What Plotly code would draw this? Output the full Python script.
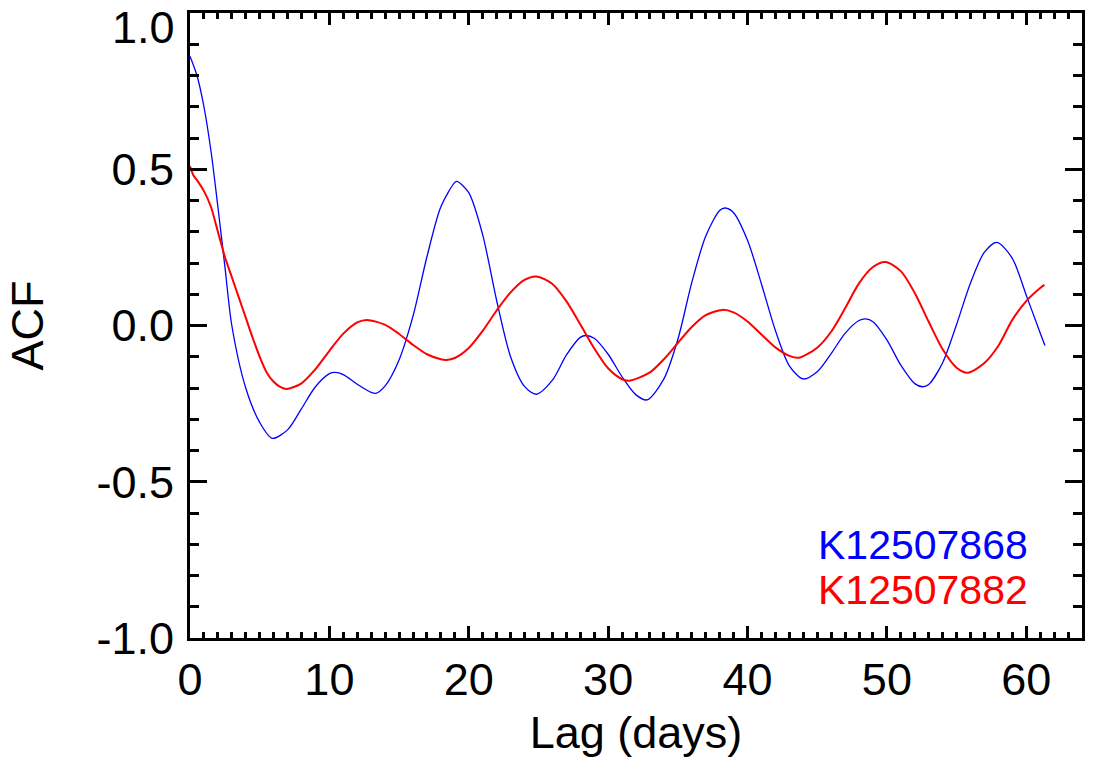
import plotly.graph_objects as go

# ---- data ----
lag_blue = [0, 0.5, 1, 1.5, 2, 2.5, 3, 4, 5, 5.9, 7, 8, 9, 10, 10.4, 11, 12, 13, 13.33,
            14, 15, 16, 17, 18, 19, 19.16, 20, 21, 22, 23, 24, 24.85, 26, 27, 28, 28.4,
            29, 30, 31, 32, 32.8, 34, 35, 36, 37, 38, 38.4, 39, 40, 41, 42, 43, 44,
            45, 46, 47, 48, 48.46, 49, 50, 51, 52, 52.57, 53, 54, 55, 56, 57, 57.9,
            59, 60, 61, 61.34]
acf_blue = [0.862, 0.80, 0.70, 0.56, 0.38, 0.19, 0.00, -0.20, -0.31, -0.361, -0.334, -0.266,
            -0.196, -0.154, -0.150, -0.157, -0.188, -0.214, -0.217,
            -0.193, -0.11, 0.03, 0.22, 0.38, 0.458, 0.461, 0.425, 0.29, 0.08, -0.10,
            -0.195, -0.220, -0.175, -0.095, -0.038, -0.032,
            -0.041, -0.092, -0.164, -0.222, -0.238, -0.171, -0.045, 0.137, 0.286, 0.368,
            0.376, 0.361, 0.273, 0.133, -0.016, -0.129, -0.171,
            -0.148, -0.090, -0.025, 0.016, 0.021, 0.012, -0.046, -0.127, -0.186, -0.196,
            -0.189, -0.119, 0.003, 0.136, 0.235, 0.266,
            0.215, 0.097, -0.024, -0.064]

lag_red = [0, 0.25, 0.5, 1, 1.5, 2, 2.5, 3, 3.5, 4, 4.5, 5, 5.5, 6, 6.5, 6.93,
           8, 9, 10, 11, 12, 12.7, 14, 15, 16, 17, 18, 18.4, 19, 20, 21, 22, 23, 24,
           24.85, 26, 27, 28, 29, 30, 31, 31.5, 33, 34, 35, 36, 37, 38.2,
           39, 40, 41, 42, 43, 43.7, 45, 46, 47, 48, 49, 49.9,
           51, 52, 53, 54, 55, 55.8, 57, 58, 59, 60, 61, 61.3]
acf_red = [0.51, 0.48, 0.465, 0.43, 0.38, 0.30, 0.22, 0.155, 0.09, 0.025, -0.04, -0.10,
           -0.15, -0.18, -0.197, -0.203,
           -0.185, -0.140, -0.081, -0.026, 0.010, 0.018, 0.002, -0.027, -0.062, -0.092,
           -0.108, -0.110, -0.104, -0.072, -0.017, 0.048, 0.106, 0.146,
           0.157, 0.133, 0.078, 0.004, -0.073, -0.137, -0.172, -0.177, -0.150, -0.108,
           -0.056, -0.005, 0.033, 0.050,
           0.042, 0.013, -0.029, -0.070, -0.097, -0.103, -0.071, -0.020, 0.055, 0.135,
           0.187, 0.203,
           0.174, 0.104, 0.012, -0.076, -0.135, -0.151, -0.12, -0.065, 0.018, 0.078,
           0.12, 0.130]

name_blue = "K12507868"
name_red = "K12507882"

x_ticks = [0, 10, 20, 30, 40, 50, 60]
y_ticks = [-1.0, -0.5, 0.0, 0.5, 1.0]
y_tick_text = ["-1.0", "-0.5", "0.0", "0.5", ""]   # top label drawn below, nudged down as in the original
top_label = "1.0"

FONT = "Liberation Sans, Arial, Helvetica, sans-serif"

fig = go.Figure()
fig.add_trace(go.Scatter(x=lag_blue, y=acf_blue, mode="lines", name=name_blue,
                         line=dict(color="#0000ff", width=1.3, shape="spline", smoothing=0.8)))
fig.add_trace(go.Scatter(x=lag_red, y=acf_red, mode="lines", name=name_red,
                         line=dict(color="#ff0000", width=2, shape="spline", smoothing=0.8)))

axis_common = dict(
    showline=True, linecolor="black", linewidth=3, mirror="ticks",
    ticks="inside", tickcolor="black", tickwidth=3,
    showgrid=False, zeroline=False, automargin=False,
    tickfont=dict(family=FONT, size=45, color="black"),
)

fig.update_xaxes(
    **axis_common,
    range=[0, 64], tickvals=x_ticks, ticklen=12,
    minor=dict(ticks="inside", dtick=1, ticklen=6, tickwidth=3, tickcolor="black", showgrid=False),
    ticklabelstandoff=0,
    title=dict(text="Lag (days)", font=dict(family=FONT, size=45, color="black"), standoff=13),
)
fig.update_yaxes(
    **axis_common,
    range=[-1, 1], tickvals=y_ticks, ticktext=y_tick_text, ticklen=17,
    minor=dict(ticks="inside", dtick=0.1, ticklen=9, tickwidth=3, tickcolor="black", showgrid=False),
    ticklabelstandoff=4,
    title=dict(text="ACF", font=dict(family=FONT, size=45, color="black"), standoff=39),
)

fig.add_annotation(xref="paper", yref="y", x=0, y=y_ticks[-1], xanchor="right", yanchor="middle",
                   xshift=-13, yshift=-14, text=top_label, showarrow=False,
                   font=dict(family=FONT, size=45, color="black"))

fig.add_annotation(xref="paper", yref="paper", x=0.702, y=0.149, xanchor="left", yanchor="middle",
                   text=name_blue, showarrow=False,
                   font=dict(family=FONT, size=41, color="#0000ff"))
fig.add_annotation(xref="paper", yref="paper", x=0.702, y=0.077, xanchor="left", yanchor="middle",
                   text=name_red, showarrow=False,
                   font=dict(family=FONT, size=41, color="#ff0000"))

fig.update_layout(
    width=1094, height=769,
    margin=dict(l=190, r=12, t=13, b=131, pad=0),
    paper_bgcolor="white", plot_bgcolor="white",
    showlegend=False,
)

fig.write_html("out.html",
               config={"displayModeBar": False},
               post_script="document.body.style.margin='0px';document.body.style.overflow='hidden';")
